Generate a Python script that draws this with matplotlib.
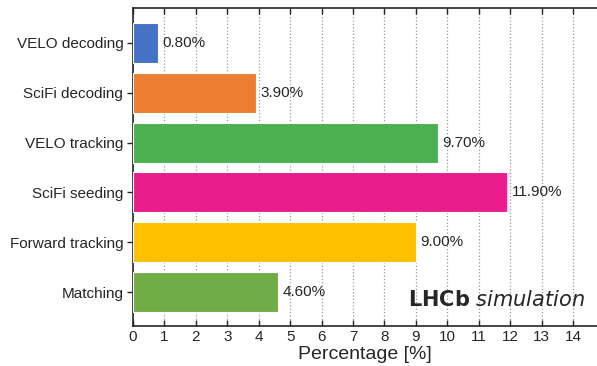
import matplotlib
matplotlib.use("Agg")
import matplotlib.pyplot as plt

stages = ["VELO decoding", "SciFi decoding", "VELO tracking",
          "SciFi seeding", "Forward tracking", "Matching"]
percentages = [0.80, 3.90, 9.70, 11.90, 9.00, 4.60]
colors = ["#4472C4", "#ED7D31", "#4CB050", "#E91E8C", "#FFC000", "#70AD47"]
x_ticks = list(range(0, 15))

plt.rcParams["font.family"] = ["Liberation Sans", "DejaVu Sans"]

fig = plt.figure(figsize=(5.97, 3.66), dpi=100)
ax = fig.add_axes([133 / 597, 40 / 366, 464 / 597, 318 / 366])

ypos = list(range(len(stages)))
ax.barh(ypos, percentages, height=0.8, color=colors,
        edgecolor="white", linewidth=0.8, zorder=3)

for y, v in zip(ypos, percentages):
    ax.text(v + 0.15, y, f"{v:.2f}%", va="center", ha="left",
            fontsize=11, color="#262626", zorder=4)

ax.set_yticks(ypos)
ax.set_yticklabels(stages, fontsize=11, color="#262626")
ax.set_ylim(5.68, -0.7)
ax.set_xlim(0, 14.76)
ax.set_xticks(x_ticks)
ax.set_xticklabels([str(t) for t in x_ticks], fontsize=11, color="#262626")
ax.set_xlabel("Percentage [%]", fontsize=14, color="#262626", labelpad=1)

ax.xaxis.grid(True, linestyle=":", color="#999999", linewidth=0.9, zorder=0)
ax.tick_params(axis="x", direction="in", top=True, bottom=True,
               length=4, width=1.0, color="#262626", pad=3)
ax.tick_params(axis="y", direction="out", left=True, length=4,
               width=1.0, color="#262626", pad=3)

for side in ("left", "bottom", "top"):
    ax.spines[side].set_color("#262626")
    ax.spines[side].set_linewidth(1.2)
ax.spines["right"].set_visible(False)

ax.text(0.975, 0.05, r"$\mathbf{LHCb}$ $\mathit{simulation}$",
        transform=ax.transAxes, ha="right", va="bottom",
        fontsize=15, color="#262626", family="DejaVu Sans", zorder=5)

fig.savefig("out.png", dpi=100)
